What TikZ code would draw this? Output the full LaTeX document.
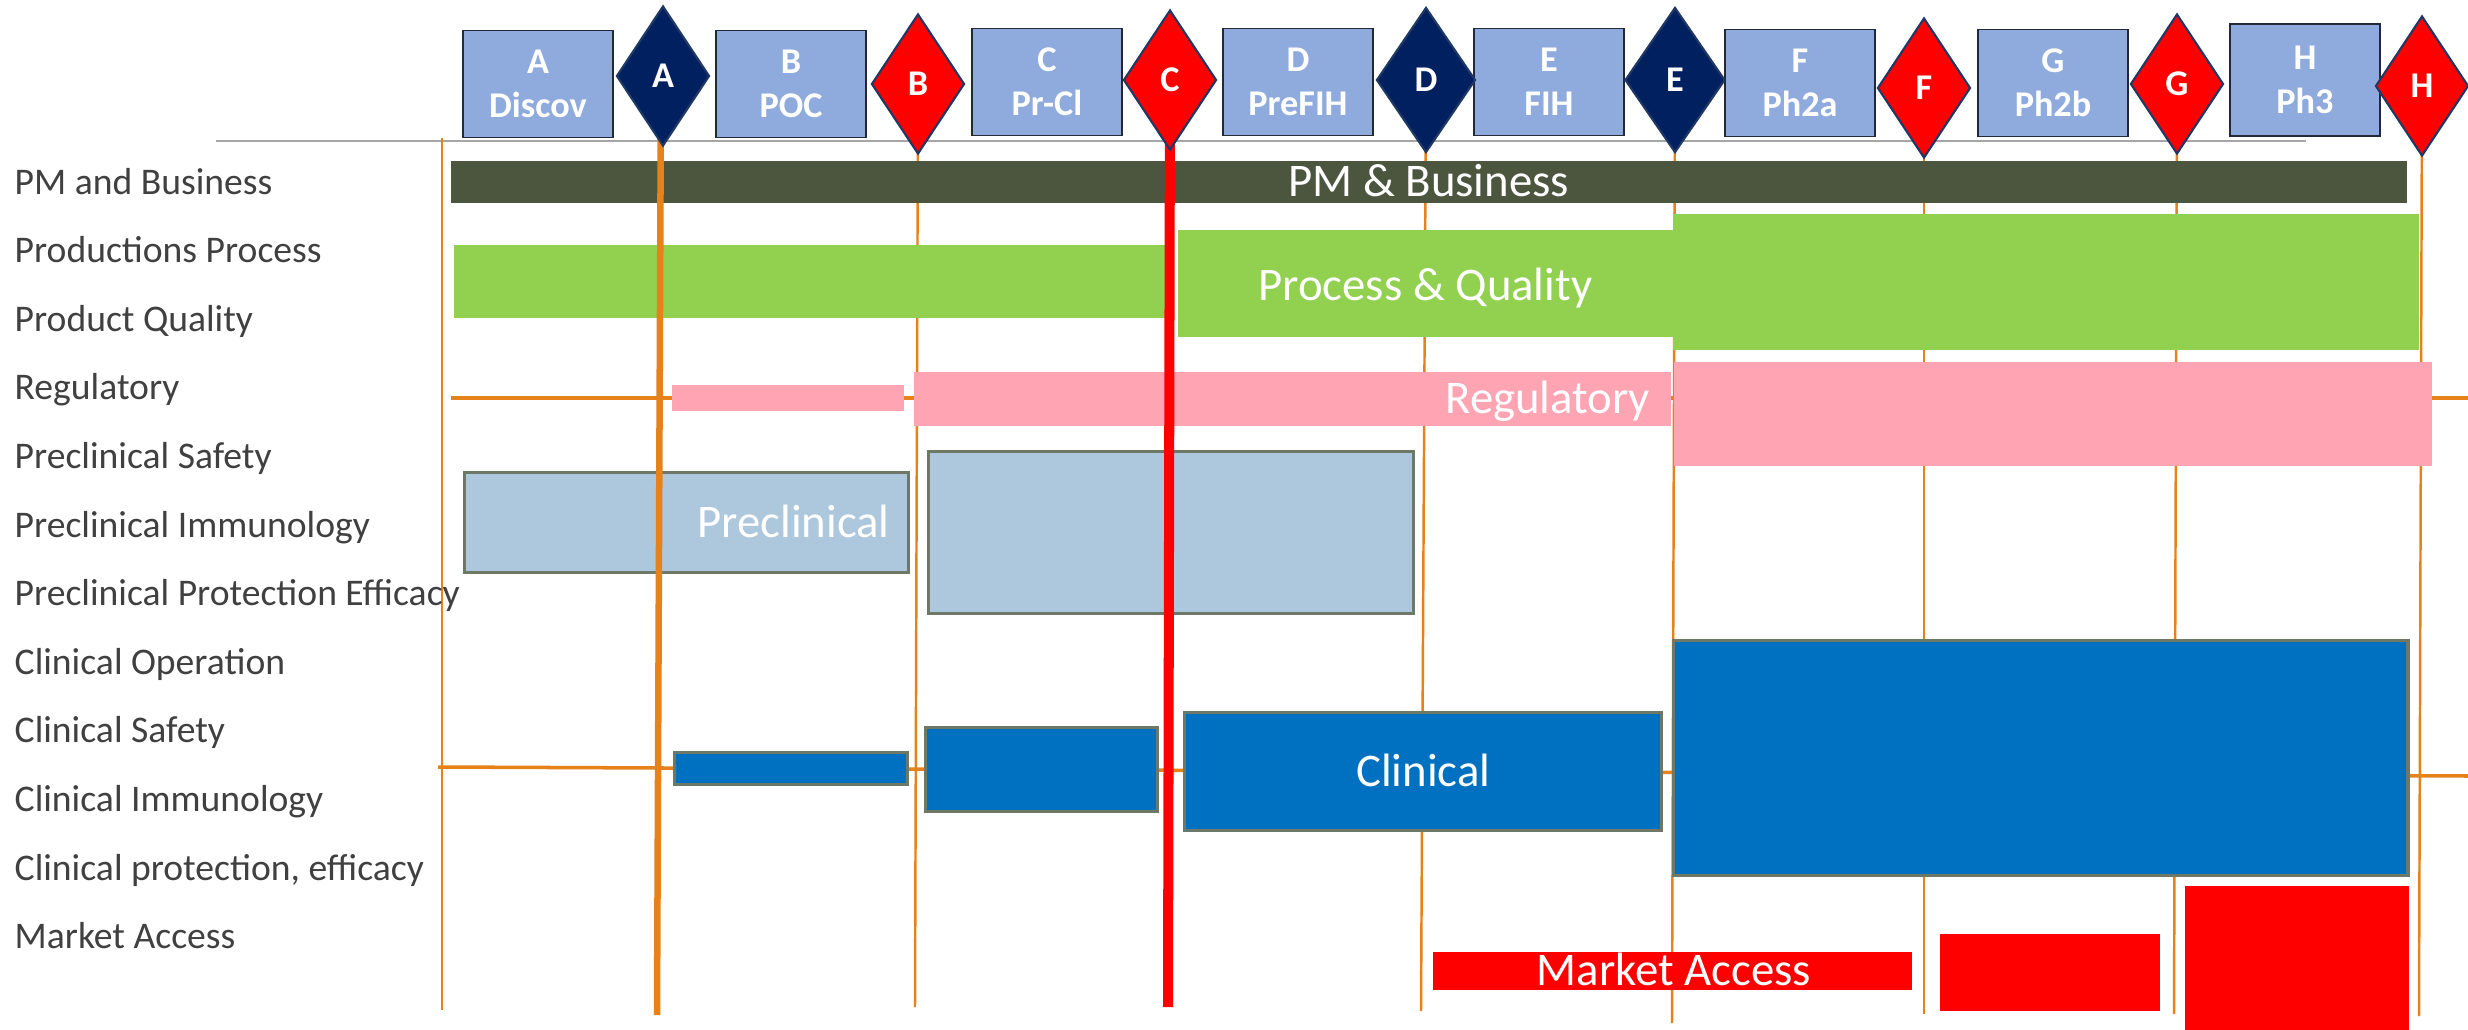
\documentclass[tikz,border=0pt]{standalone}
\usepackage{fontspec}
\setmainfont{Carlito}
\usetikzlibrary{shapes.geometric,backgrounds}

\definecolor{phaseFill}{RGB}{143,170,220}
\definecolor{phaseLine}{RGB}{35,40,55}
\definecolor{gateNavy}{RGB}{0,32,96}
\definecolor{gateRed}{RGB}{255,0,0}
\definecolor{gateLine}{RGB}{31,56,100}
\definecolor{gridOrange}{RGB}{230,130,25}
\definecolor{pmDark}{RGB}{76,86,63}
\definecolor{pqGreen}{RGB}{146,208,80}
\definecolor{regPink}{RGB}{255,164,178}
\definecolor{preBlue}{RGB}{173,199,220}
\definecolor{barEdge}{RGB}{110,120,102}
\definecolor{clinBlue}{RGB}{0,112,192}
\definecolor{maRed}{RGB}{255,0,0}
\definecolor{labelGrey}{RGB}{64,64,64}
\definecolor{axisGrey}{RGB}{166,166,166}

\begin{document}
\begin{tikzpicture}[
  x=0.01cm, y=-0.01cm,
  phase/.style={
    draw=phaseLine,
    line width=0.5pt,
    fill=phaseFill,
    minimum width=1.5cm,
    minimum height=1.07cm,
    inner sep=0pt,
    align=center,
    text=white,
    font=\fontsize{10.3}{12.4}\selectfont\bfseries
  },
  gate/.style={
    diamond,
    draw=gateLine,
    line width=0.6pt,
    inner sep=0pt,
    minimum width=0.93cm,
    minimum height=1.40cm,
    text=white,
    font=\fontsize{10.3}{12}\selectfont\bfseries
  },
  goGate/.style={gate, fill=gateNavy},
  stopGate/.style={gate, fill=gateRed},
  rowlabel/.style={
    anchor=base west,
    inner sep=0pt,
    text=labelGrey,
    font=\fontsize{10.7}{13}\selectfont
  },
  bar/.style={anchor=north west, inner sep=0pt},
  framedbar/.style={bar, draw=barEdge, line width=0.9pt},
  bartext/.style={
    inner sep=0pt,
    text=white,
    font=\fontsize{13.3}{16}\selectfont,
    text height=8.6pt,
    text depth=0pt
  },
  gridline/.style={draw=gridOrange, line width=0.7pt}
]

\useasboundingbox (0,0) rectangle (2468,1030);

% phases and gates
\node[phase] (pA) at (538,84) {A\\Discov};
\node[phase] (pB) at (791,84) {B\\POC};
\node[phase] (pC) at (1047,82) {C\\Pr-Cl};
\node[phase] (pD) at (1298,82) {D\\PreFIH};
\node[phase] (pE) at (1549,82) {E\\FIH};
\node[phase] (pF) at (1800,83) {F\\Ph2a};
\node[phase] (pG) at (2053,83) {G\\Ph2b};
\node[phase, minimum height=1.12cm] (pH) at (2305,80) {H\\Ph3};

\node[goGate] (gA) at (663,76) {A};
\node[stopGate] (gB) at (918,84) {B};
\node[stopGate] (gC) at (1170,80) {C};
\node[goGate, minimum width=0.99cm, minimum height=1.45cm] (gD) at (1426,80) {D};
\node[goGate, minimum width=1.0cm, minimum height=1.45cm] (gE) at (1675,80) {E};
\node[stopGate] (gF) at (1924,88) {F};
\node[stopGate] (gG) at (2177,84) {G};
\node[stopGate] (gH) at (2422,86) {H};

% workstreams
\node[rowlabel] (lPM) at (14,194) {PM and Business};
\node[rowlabel] (lProc) at (14,262.6) {Productions Process};
\node[rowlabel] (lQual) at (14,331.2) {Product Quality};
\node[rowlabel] (lReg) at (14,399.8) {Regulatory};
\node[rowlabel] (lPreSaf) at (14,468.4) {Preclinical Safety};
\node[rowlabel] (lPreImm) at (14,537) {Preclinical Immunology};
\node[rowlabel] (lPreEff) at (14,605.6) {Preclinical Protection Efficacy};
\node[rowlabel] (lClinOp) at (14,674.2) {Clinical Operation};
\node[rowlabel] (lClinSaf) at (14,742.8) {Clinical Safety};
\node[rowlabel] (lClinImm) at (14,811.4) {Clinical Immunology};
\node[rowlabel] (lClinEff) at (14,880) {Clinical protection, efficacy};
\node[rowlabel] (lMA) at (14,948.6) {Market Access};

\begin{scope}[on background layer]
  \fill[white] (0,0) rectangle (2468,1030);
  \draw[draw=axisGrey, line width=0.45pt] (216,141) -- (2306,141);
  \draw[gridline] (442,138) -- (442,1010);
  \draw[gridline] (gB.center) -- ++(-3,923);
  \draw[gridline] (gD.center) -- ++(-5,931);
  \draw[gridline] (gE.center) -- ++(-3,943);
  \draw[gridline] (gF.center) -- ++(0,926);
  \draw[gridline] (gG.center) -- ++(-3,930);
  \draw[gridline] (gH.center) -- ++(-3,930);
  \draw[gridline, line width=1pt] (451,398) -- (2468,398);
  \draw[gridline, line width=1pt] (438,767) -- (2468,776);

  \node[bar, fill=pmDark, minimum width=19.55cm, minimum height=0.42cm] (pmBar) at (450,160) {};

  \node[bar, fill=pqGreen, minimum width=7.12cm, minimum height=0.73cm] (pqBarA) at (453,244) {};
  \node[bar, fill=pqGreen, minimum width=4.95cm, minimum height=1.07cm] (pqBarB) at (1177,229) {};
  \node[bar, fill=pqGreen, minimum width=7.46cm, minimum height=1.36cm] (pqBarC) at (1672,213) {};

  \node[bar, fill=regPink, minimum width=2.32cm, minimum height=0.26cm] (regBarA) at (671,384) {};
  \node[bar, fill=regPink, minimum width=7.57cm, minimum height=0.54cm] (regBarB) at (913,371) {};
  \node[bar, fill=regPink, minimum width=7.58cm, minimum height=1.04cm] (regBarC) at (1673,361) {};

  \node[framedbar, fill=preBlue, minimum width=4.44cm, minimum height=1.00cm] (preBarA) at (463,471) {};
  \node[framedbar, fill=preBlue, minimum width=4.85cm, minimum height=1.62cm] (preBarB) at (927,450) {};

  \node[framedbar, fill=clinBlue, minimum width=2.33cm, minimum height=0.32cm] (clinBarA) at (673,751) {};
  \node[framedbar, fill=clinBlue, minimum width=2.32cm, minimum height=0.84cm] (clinBarB) at (924,726) {};
  \node[framedbar, fill=clinBlue, minimum width=4.77cm, minimum height=1.18cm] (clinBarC) at (1183,711) {};
  \node[framedbar, fill=clinBlue, minimum width=7.34cm, minimum height=2.35cm] (clinBarD) at (1672,639) {};

  \node[bar, fill=maRed, minimum width=4.79cm, minimum height=0.38cm] (maBarA) at (1432,951) {};
  \node[bar, fill=maRed, minimum width=2.20cm, minimum height=0.77cm] (maBarB) at (1939,933) {};
  \node[bar, fill=maRed, minimum width=2.24cm, minimum height=1.45cm] (maBarC) at (2184,885) {};

  \draw[draw=gridOrange, line width=1.85pt] ([xshift=-0.02cm]gA.center) -- ++(-4,939);
  \draw[draw=gateRed, line width=2.85pt] (gC.center) -- ++(-2,927);
\end{scope}

\node[bartext] (pmText) at (pmBar.center) {PM \& Business};
\node[bartext] (pqText) at ([yshift=-0.02cm]pqBarB.center) {Process \& Quality};
\node[bartext, anchor=east] (regText) at ([xshift=-0.21cm]regBarB.east) {Regulatory};
\node[bartext, anchor=east] (preText) at ([xshift=-0.20cm]preBarA.east) {Preclinical};
\node[bartext] (clinText) at (clinBarC.center) {Clinical};
\node[bartext, anchor=east] (maText) at ([xshift=-1.01cm]maBarA.east) {Market Access};

\end{tikzpicture}
\end{document}
